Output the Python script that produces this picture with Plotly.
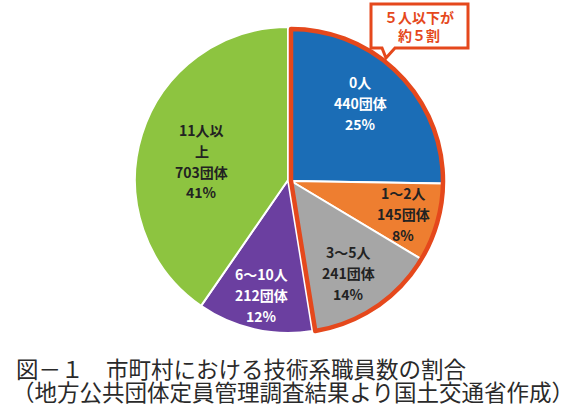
import plotly.graph_objects as go

categories = ["0人", "1～2人", "3～5人", "6～10人", "11人以<br>上"]
counts = [440, 145, 241, 212, 703]
percent_labels = ["25%", "8%", "14%", "12%", "41%"]

caption_lines = [
    "図－１　市町村における技術系職員数の割合",
    "（地方公共団体定員管理調査結果より国土交通省作成）",
]

colors = ["#1B6DB6", "#EE7E30", "#A6A6A6", "#6B3FA0", "#8DC440"]
text_colors = ["white", "#222", "#222", "white", "#222"]
red = "#E5481C"

W, H = 580, 412


def px_x(x):
    return x / W


def px_y(y):
    return 1 - y / H


def pie_domain(cx, cy, r):
    return dict(x=[px_x(cx - r), px_x(cx + r)], y=[px_y(cy + r), px_y(cy - r)])


small_n = 3  # 0人, 1～2人, 3～5人 -> 5人以下
small_total = sum(counts[:small_n])
rest_total = sum(counts[small_n:])

fig = go.Figure()

# 6人以上 (the first three slices are left empty here)
fig.add_trace(
    go.Pie(
        values=[small_total] + counts[small_n:],
        sort=False,
        direction="clockwise",
        rotation=0,
        marker=dict(
            colors=["rgba(0,0,0,0)"] + colors[small_n:],
            line=dict(color="white", width=[0] + [2] * (len(counts) - small_n)),
        ),
        textinfo="none",
        hoverinfo="skip",
        domain=pie_domain(288, 180, 153),
        showlegend=False,
    )
)

# 5人以下, slightly pulled out
group_domain = pie_domain(291, 181, 152)
fig.add_trace(
    go.Pie(
        values=counts[:small_n] + [rest_total],
        sort=False,
        direction="clockwise",
        rotation=0,
        marker=dict(
            colors=colors[:small_n] + ["rgba(0,0,0,0)"],
            line=dict(color="white", width=[2] * small_n + [0]),
        ),
        textinfo="none",
        hoverinfo="skip",
        domain=group_domain,
        showlegend=False,
    )
)

# red outline round the 5人以下 group
fig.add_trace(
    go.Pie(
        values=[small_total, rest_total],
        sort=False,
        direction="clockwise",
        rotation=0,
        marker=dict(
            colors=["rgba(0,0,0,0)", "rgba(0,0,0,0)"],
            line=dict(color=[red, "rgba(0,0,0,0)"], width=[4.5, 0]),
        ),
        textinfo="none",
        hoverinfo="skip",
        domain=group_domain,
        showlegend=False,
    )
)

label_pos = [(360, 103), (403, 214), (348, 273), (261, 295), (202, 161)]
line_gap = 21

annotations = []
for i in range(len(counts)):
    x, y = label_pos[i]
    lines = categories[i].split("<br>") + [f"{counts[i]}団体", percent_labels[i]]
    top = y - line_gap * (len(lines) - 1) / 2
    for k, line in enumerate(lines):
        annotations.append(
            dict(
                xref="paper",
                yref="paper",
                x=px_x(x),
                y=px_y(top + k * line_gap),
                xanchor="center",
                yanchor="middle",
                text=line,
                showarrow=False,
                font=dict(size=14, color=text_colors[i], family="Noto Sans CJK JP", weight="bold"),
            )
        )

# callout
annotations.append(
    dict(
        xref="paper",
        yref="paper",
        x=px_x(419),
        y=px_y(26),
        xanchor="center",
        yanchor="middle",
        text="５人以下が<br>約５割",
        showarrow=False,
        font=dict(size=14, color=red, family="Noto Sans CJK JP", weight="bold"),
        align="center",
    )
)

# caption
for k, line in enumerate(caption_lines):
    annotations.append(
        dict(
            xref="paper",
            yref="paper",
            x=px_x(14 - 4 * k),
            y=px_y(368 + 23 * k),
            xanchor="left",
            yanchor="middle",
            text=line,
            showarrow=False,
            font=dict(size=22.5, color="#2a2a2a", family="Noto Sans CJK JP"),
        )
    )

shapes = [
    dict(
        type="path",
        xref="paper",
        yref="paper",
        path=(
            f"M {px_x(371)},{px_y(4)} L {px_x(468)},{px_y(4)} L {px_x(468)},{px_y(48)} "
            f"L {px_x(395)},{px_y(48)} L {px_x(386)},{px_y(58)} L {px_x(382)},{px_y(48)} "
            f"L {px_x(371)},{px_y(48)} Z"
        ),
        line=dict(color=red, width=3),
        fillcolor="white",
    )
]

fig.update_layout(
    width=W,
    height=H,
    margin=dict(l=0, r=0, t=0, b=0),
    paper_bgcolor="white",
    plot_bgcolor="white",
    annotations=annotations,
    shapes=shapes,
    font_family="Noto Sans CJK JP",
)

fig.write_html(
    "out.html",
    config={"displayModeBar": False},
    post_script="document.body.style.margin = '0px';",
)
